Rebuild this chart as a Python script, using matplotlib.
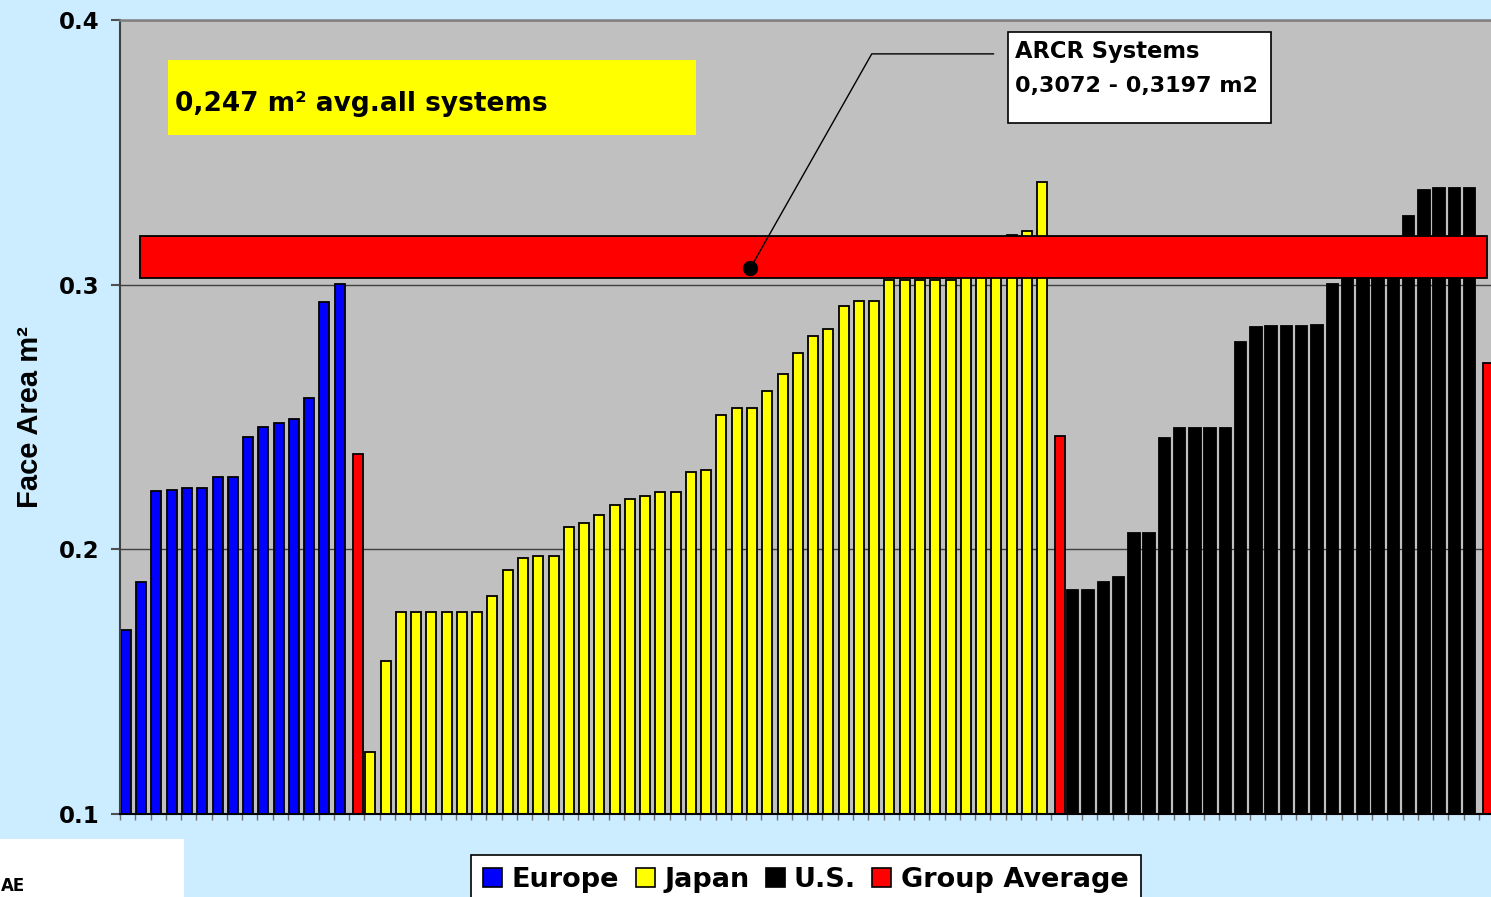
import matplotlib.pyplot as plt
from matplotlib.patches import Patch, Rectangle

W, H = 1491, 897

# face area per system (m2), sorted within each region
europe = [0.1697, 0.1877, 0.2219, 0.2226, 0.2233, 0.2233, 0.2272, 0.2274,
          0.2423, 0.2462, 0.2478, 0.2492, 0.2573, 0.2935, 0.3003]
japan = [0.1234, 0.1579, 0.1762, 0.1762, 0.1762, 0.1762, 0.1762, 0.1762,
         0.1825, 0.1923, 0.1966, 0.1975, 0.1975, 0.2085, 0.2099, 0.2128,
         0.2167, 0.2190, 0.2203, 0.2217, 0.2217, 0.2294, 0.2300, 0.2506,
         0.2533, 0.2533, 0.2599, 0.2662, 0.2742, 0.2807, 0.2833, 0.2920,
         0.2938, 0.2938, 0.3017, 0.3017, 0.3017, 0.3017, 0.3017, 0.3040,
         0.3080, 0.3130, 0.3188, 0.3201, 0.3387]
us = [0.1847, 0.1847, 0.1876, 0.1896, 0.2062, 0.2062, 0.2419, 0.2459,
      0.2459, 0.2459, 0.2459, 0.2783, 0.2841, 0.2844, 0.2844, 0.2844,
      0.2849, 0.3003, 0.3030, 0.3060, 0.3090, 0.3120, 0.3258, 0.3357,
      0.3366, 0.3366, 0.3366]
group_avg = [0.2359, 0.2427, 0.2705]

regions = ['Europe', 'Japan', 'U.S.']
region_colors = ['#0000FF', '#FFFF00', '#000000']
avg_color = '#FF0000'

# ARCR band as drawn on the slide
band_low, band_high = 0.3024, 0.3185
band_x = (1.31, 89.53)
# callout: dot on the band, elbow, end near the label box
callout_x = [41.28, 49.23, 57.2]
callout_y = [0.3062, 0.3872, 0.3872]


def fx(px):
    return px / W


def fy(py):
    return 1 - py / H


fig = plt.figure(figsize=(W / 100, H / 100), dpi=100, facecolor='#CCECFF')
ax = fig.add_axes([fx(120), fy(814), (1494.3 - 120) / W, (814 - 20) / H])
ax.set_facecolor('#C0C0C0')

slot = 0
for name, vals, color, avg in zip(regions, [europe, japan, us], region_colors, group_avg):
    width = 0.75 if name == 'U.S.' else 0.655
    xs = [slot + i + 0.39 for i in range(len(vals))]
    ax.bar(xs, vals, width=width, color=color, edgecolor='black', linewidth=1.3, zorder=2)
    slot += len(vals)
    ax.bar(slot + 0.57, avg, width=0.655, color=avg_color, edgecolor='black', linewidth=1.3, zorder=2)
    slot += 1

ax.set_xlim(0, slot)
ax.set_ylim(0.1, 0.4)

ax.set_xticks(range(0, slot + 1))
ax.set_xticklabels([])
ax.tick_params(axis='x', length=4, width=1, color='#707070', direction='out')

ax.set_yticks([0.1, 0.2, 0.3, 0.4])
ax.set_yticklabels(['0.1', '0.2', '0.3', '0.4'], fontsize=16.5, fontweight='bold')
ax.tick_params(axis='y', length=6.5, width=1.5, color='#505050', pad=8)
ax.yaxis.grid(True, color='#404040', linewidth=1)
ax.set_axisbelow(True)

ax.spines['right'].set_visible(False)
ax.spines['left'].set_color('#404040')
ax.spines['left'].set_linewidth(1.5)
ax.spines['top'].set_color('#808080')
ax.spines['top'].set_linewidth(1.8)
ax.spines['bottom'].set_color('black')
ax.spines['bottom'].set_linewidth(1.5)

# ARCR band and callout
ax.add_patch(Rectangle((band_x[0], band_low), band_x[1] - band_x[0], band_high - band_low,
                       facecolor=avg_color, edgecolor='black', linewidth=1.3, zorder=3))
ax.plot(callout_x, callout_y, color='black', linewidth=1, zorder=5)
ax.plot(callout_x[0], callout_y[0], 'o', color='black', markersize=10, zorder=5)

fig.add_artist(Rectangle((fx(1008), fy(123)), (1271 - 1008) / W, (123 - 32) / H,
                         transform=fig.transFigure, facecolor='white', edgecolor='black',
                         linewidth=1.2, zorder=6))
fig.text(fx(1015), fy(58), 'ARCR Systems', va='baseline', fontsize=16.3, fontweight='bold', zorder=7)
fig.text(fx(1015), fy(92), '0,3072 - 0,3197 m2', va='baseline', fontsize=16, fontweight='bold', zorder=7)

# overall average note
fig.add_artist(Rectangle((fx(168), fy(135)), (696 - 168) / W, (135 - 60) / H,
                         transform=fig.transFigure, facecolor='#FFFF00', edgecolor='none', zorder=6))
fig.text(fx(175), fy(111), '0,247 m\u00b2 avg.all systems', va='baseline', fontsize=19,
         fontweight='bold', zorder=7)

fig.text(fx(30), fy(417), 'Face Area m\u00b2', rotation=90, ha='center', va='center',
         fontsize=21, fontweight='bold', family='Liberation Sans')

# logo fragment bottom-left
fig.add_artist(Rectangle((0, 0), fx(184), (897 - 839) / H,
                         transform=fig.transFigure, facecolor='white', edgecolor='none', zorder=6))
fig.text(fx(1), fy(895), 'AE', ha='left', va='bottom', fontsize=12, fontweight='bold', zorder=7)

handles = [Patch(facecolor=c, edgecolor='black', linewidth=1.2) for c in region_colors + [avg_color]]
labels = regions + ['Group Average']
leg = fig.legend(handles, labels, loc='upper center', bbox_to_anchor=(fx(806), fy(855)),
                 ncol=4, prop={'weight': 'bold', 'size': 19.5},
                 handlelength=0.7, handleheight=0.7, handletextpad=0.35, columnspacing=0.6,
                 borderpad=0.45, borderaxespad=0, fancybox=False, edgecolor='black',
                 framealpha=1)
leg.get_frame().set_linewidth(1.2)

fig.savefig('out.png', dpi=100, facecolor=fig.get_facecolor())
